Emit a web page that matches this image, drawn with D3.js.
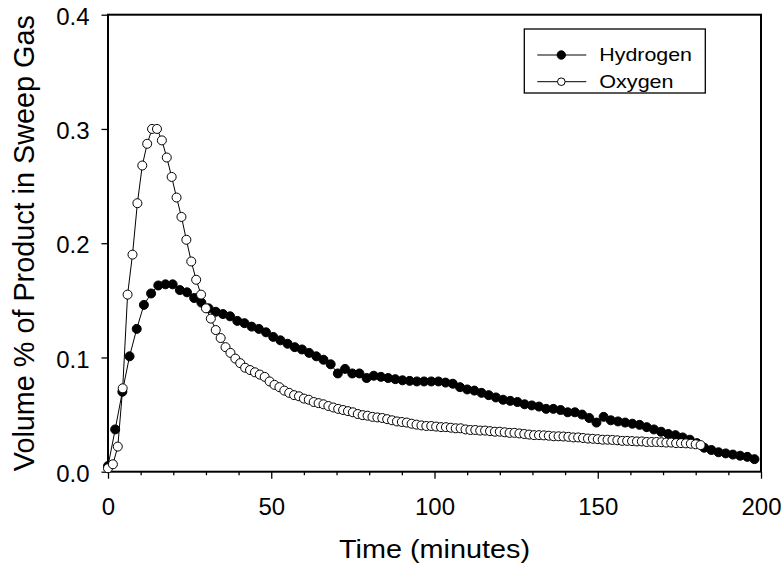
<!DOCTYPE html>
<html>
<head>
<meta charset="utf-8">
<script src="https://cdn.jsdelivr.net/npm/d3@7/dist/d3.min.js"></script>
<style>
body { margin: 0; background: #fff; }
svg { font-family: "Liberation Sans", Arial, sans-serif; }
</style>
</head>
<body>
<svg width="783" height="573"></svg>
<script>
// sampling times (minutes)
var hydrogenTime = [
    0, 2.2, 4.4, 6.6, 8.8, 11, 13.2, 15.4, 17.6, 19.8,
    22, 24.2, 26.4, 28.6, 30.8, 33, 35.2, 37.4, 39.6, 41.8,
    44, 46.2, 48.4, 50.6, 52.8, 55, 57.2, 59.4, 61.6, 63.8,
    66, 68.2, 70.4, 72.6, 74.8, 77, 79.2, 81.4, 83.6, 85.8,
    88, 90.2, 92.4, 94.6, 96.8, 99, 101.2, 103.4, 105.6, 107.8,
    110, 112.2, 114.4, 116.6, 118.8, 121, 123.2, 125.4, 127.6, 129.8,
    132, 134.2, 136.4, 138.6, 140.8, 143, 145.2, 147.4, 149.6, 151.8,
    154, 156.2, 158.4, 160.6, 162.8, 165, 167.2, 169.4, 171.6, 173.8,
    176, 178.2, 180.4, 182.6, 184.8, 187, 189.2, 191.4, 193.6, 195.8,
    198
];
var hydrogenVol = [
    0.005, 0.037, 0.070, 0.101, 0.125, 0.146, 0.156, 0.163, 0.164, 0.164,
    0.159, 0.157, 0.152, 0.148, 0.143, 0.140, 0.138, 0.136, 0.132, 0.130,
    0.127, 0.125, 0.122, 0.118, 0.115, 0.112, 0.109, 0.107, 0.104, 0.101,
    0.098, 0.094, 0.086, 0.090, 0.086, 0.086, 0.082, 0.084, 0.083, 0.082,
    0.081, 0.080, 0.0795, 0.079, 0.079, 0.079, 0.079, 0.078, 0.077, 0.074,
    0.072, 0.071, 0.069, 0.067, 0.065, 0.063, 0.062, 0.061, 0.059, 0.058,
    0.057, 0.055, 0.055, 0.054, 0.052, 0.052, 0.050, 0.047, 0.043, 0.048,
    0.045, 0.044, 0.043, 0.042, 0.041, 0.039, 0.037, 0.035, 0.033, 0.032,
    0.030, 0.028, 0.025, 0.021, 0.019, 0.017, 0.016, 0.015, 0.014, 0.013,
    0.011
];

var oxygenTime = [
    0, 1.5, 3, 4.5, 6, 7.5, 9, 10.5, 12, 13.5,
    15, 16.5, 18, 19.5, 21, 22.5, 24, 25.5, 27, 28.5,
    30, 31.5, 33, 34.5, 36, 37.5, 39, 40.5, 42, 43.5,
    45, 46.5, 48, 49.5, 51, 52.5, 54, 55.5, 57, 58.5,
    60, 61.5, 63, 64.5, 66, 67.5, 69, 70.5, 72, 73.5,
    75, 76.5, 78, 79.5, 81, 82.5, 84, 85.5, 87, 88.5,
    90, 91.5, 93, 94.5, 96, 97.5, 99, 100.5, 102, 103.5,
    105, 106.5, 108, 109.5, 111, 112.5, 114, 115.5, 117, 118.5,
    120, 121.5, 123, 124.5, 126, 127.5, 129, 130.5, 132, 133.5,
    135, 136.5, 138, 139.5, 141, 142.5, 144, 145.5, 147, 148.5,
    150, 151.5, 153, 154.5, 156, 157.5, 159, 160.5, 162, 163.5,
    165, 166.5, 168, 169.5, 171, 172.5, 174, 175.5, 177, 178.5,
    180, 181.5
];
var oxygenVol = [
    0.003, 0.0065, 0.022, 0.073, 0.155, 0.190, 0.235, 0.268, 0.287, 0.300,
    0.300, 0.290, 0.275, 0.258, 0.240, 0.223, 0.203, 0.184, 0.168, 0.155,
    0.143, 0.134, 0.124, 0.117, 0.109, 0.104, 0.099, 0.095, 0.091, 0.089,
    0.087, 0.085, 0.083, 0.079, 0.076, 0.074, 0.071, 0.069, 0.067, 0.066,
    0.064, 0.063, 0.061, 0.060, 0.059, 0.0575, 0.0562, 0.055, 0.054, 0.053,
    0.052, 0.0505, 0.0495, 0.049, 0.048, 0.0475, 0.047, 0.046, 0.045, 0.044,
    0.0435, 0.043, 0.042, 0.0412, 0.0405, 0.040, 0.040, 0.0395, 0.039, 0.039,
    0.0385, 0.038, 0.038, 0.037, 0.0365, 0.0365, 0.036, 0.036, 0.0355, 0.035,
    0.035, 0.0345, 0.034, 0.034, 0.0335, 0.033, 0.0325, 0.032, 0.032, 0.0318,
    0.0315, 0.031, 0.031, 0.0308, 0.0305, 0.030, 0.030, 0.0295, 0.029, 0.0288,
    0.0285, 0.028, 0.028, 0.0278, 0.0275, 0.027, 0.027, 0.0268, 0.0265, 0.0265,
    0.026, 0.026, 0.026, 0.0258, 0.0255, 0.0255, 0.025, 0.025, 0.0248, 0.0245,
    0.024, 0.0233
];

var xTicks = [0, 50, 100, 150, 200];
var xMinorTicks = [10, 20, 30, 40, 60, 70, 80, 90, 110, 120, 130, 140, 160, 170, 180, 190];
var yTicks = [0, 0.1, 0.2, 0.3, 0.4];

var seriesNames = ["Hydrogen", "Oxygen"];


var svg = d3.select("svg");

var xScale = d3.scaleLinear()
    .domain([0, 200])
    .range([108, 761]);

var yScale = d3.scaleLinear()
    .domain([0, 0.4])
    .range([471.7, 14.7]);

// minor x ticks
svg.append("g")
    .attr("transform", "translate(0," + yScale(0) + ")")
    .call(d3.axisBottom(xScale).tickValues(xMinorTicks).tickSize(3.5).tickFormat(""))
    .call(function (g) { g.select(".domain").remove(); });

// major x ticks
svg.append("g")
    .attr("id", "xAxisG")
    .attr("transform", "translate(0," + yScale(0) + ")")
    .call(d3.axisBottom(xScale).tickValues(xTicks).tickSize(7).tickPadding(19.3).tickFormat(d3.format("d")))
    .call(function (g) { g.select(".domain").remove(); });

svg.append("g")
    .attr("id", "yAxisG")
    .attr("transform", "translate(" + xScale(0) + ",0)")
    .call(d3.axisLeft(yScale).tickValues(yTicks).tickSize(6.5).tickPadding(12).tickFormat(d3.format(".1f")))
    .call(function (g) { g.select(".domain").remove(); });

svg.selectAll(".tick line")
    .attr("stroke", "#000")
    .attr("stroke-width", 1.3);

svg.selectAll(".tick text")
    .attr("fill", "#000")
    .style("font-family", "'Liberation Sans', Arial, sans-serif")
    .style("font-size", "24px");

svg.selectAll("#yAxisG .tick text").attr("dy", "0.4em");

// plot frame
svg.append("rect")
    .attr("x", xScale(0))
    .attr("y", yScale(0.4))
    .attr("width", xScale(200) - xScale(0))
    .attr("height", yScale(0) - yScale(0.4))
    .attr("fill", "none")
    .attr("stroke", "#000")
    .attr("stroke-width", 2);

// axis titles
svg.append("text")
    .attr("x", (xScale(0) + xScale(200)) / 2)
    .attr("y", 557.5)
    .attr("text-anchor", "middle")
    .attr("textLength", 191)
    .attr("lengthAdjust", "spacingAndGlyphs")
    .style("font-size", "25px")
    .text("Time (minutes)");

svg.append("text")
    .attr("transform", "translate(33.5," + (yScale(0) + yScale(0.4)) / 2 + ") rotate(-90)")
    .attr("text-anchor", "middle")
    .attr("textLength", 456)
    .attr("lengthAdjust", "spacingAndGlyphs")
    .style("font-size", "29px")
    .text("Volume % of Product in Sweep Gas");

// series
var hydrogen = hydrogenTime.map(function (t, i) { return { t: t, v: hydrogenVol[i] }; });
var oxygen = oxygenTime.map(function (t, i) { return { t: t, v: oxygenVol[i] }; });

var lineGen = d3.line()
    .x(function (d) { return xScale(d.t); })
    .y(function (d) { return yScale(d.v); });

var series = [
    { name: seriesNames[0], data: hydrogen, fill: "#000" },
    { name: seriesNames[1], data: oxygen, fill: "#fff" }
];

series.forEach(function (s) {
    svg.append("path")
        .attr("d", lineGen(s.data))
        .attr("fill", "none")
        .attr("stroke", "#000")
        .attr("stroke-width", 1);

    svg.append("g")
        .selectAll("circle")
        .data(s.data)
        .enter()
        .append("circle")
        .attr("cx", function (d) { return xScale(d.t); })
        .attr("cy", function (d) { return yScale(d.v); })
        .attr("r", 4.5)
        .attr("fill", s.fill)
        .attr("stroke", "#000")
        .attr("stroke-width", 1);
});

// legend
var legend = svg.append("g").attr("transform", "translate(524.3,29)");

legend.append("rect")
    .attr("width", 181)
    .attr("height", 64)
    .attr("fill", "#fff")
    .attr("stroke", "#000")
    .attr("stroke-width", 1.3);

var textLengths = [92.7, 74.3];

series.forEach(function (s, i) {
    var row = legend.append("g").attr("transform", "translate(0," + (26 + i * 26.7) + ")");
    row.append("line")
        .attr("x1", 13).attr("x2", 62)
        .attr("stroke", "#000").attr("stroke-width", 1);
    row.append("circle")
        .attr("cx", 37)
        .attr("r", i == 0 ? 4.2 : 3.8)
        .attr("fill", s.fill)
        .attr("stroke", "#000")
        .attr("stroke-width", 1);
    row.append("text")
        .attr("x", 75)
        .attr("y", 6.3)
        .attr("textLength", textLengths[i])
        .attr("lengthAdjust", "spacingAndGlyphs")
        .style("font-size", "19px")
        .text(s.name);
});
</script>
</body>
</html>
